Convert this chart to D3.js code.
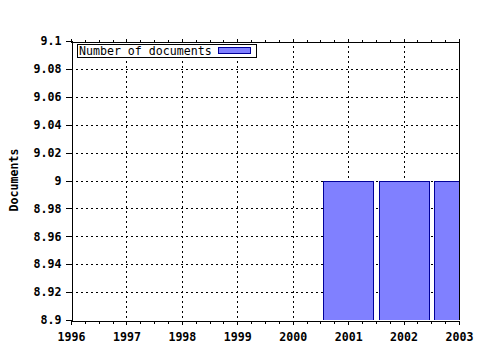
<!DOCTYPE html>
<html><head><meta charset="utf-8">
<script src="https://cdn.jsdelivr.net/npm/d3@7"></script>
<style>body{margin:0;background:#fff}svg{display:block}</style>
</head><body>
<script>
const years = [1996, 1997, 1998, 1999, 2000, 2001, 2002, 2003];
const barYears = [2001, 2002, 2003];
const barValues = [9, 9, 9];
const yTicks = [8.9, 8.92, 8.94, 8.96, 8.98, 9, 9.02, 9.04, 9.06, 9.08, 9.1];
const seriesName = "Number of documents";
const yTitle = "Documents";

const W = 480, H = 350;
const m = {l: 71, r: 21, t: 41, b: 30};
const font = "'DejaVu Sans Mono', monospace";
const svg = d3.select("body").append("svg").attr("width", W).attr("height", H);

const x = d3.scaleLinear().domain([1996, 2003]).range([m.l, W - m.r]);
const y = d3.scaleLinear().domain([8.9, 9.1]).range([H - m.b, m.t]);

svg.append("defs").append("clipPath").attr("id", "clip")
  .append("rect").attr("x", m.l).attr("y", m.t).attr("width", W - m.r - m.l).attr("height", H - m.b - m.t);

// grid
const g = svg.append("g").attr("stroke", "#000").attr("stroke-dasharray", "2,3").attr("shape-rendering", "crispEdges");
yTicks.slice(1, -1).forEach(v => {
  g.append("line").attr("x1", m.l).attr("x2", W - m.r).attr("y1", Math.round(y(v)) + 0.5).attr("y2", Math.round(y(v)) + 0.5);
});
years.slice(1, -1).forEach(v => {
  g.append("line").attr("y1", m.t).attr("y2", H - m.b).attr("x1", Math.round(x(v)) + 0.5).attr("x2", Math.round(x(v)) + 0.5);
});

// bars
const step = x(1997) - x(1996);
const bw = step * 0.9;
svg.append("g").attr("clip-path", "url(#clip)").selectAll("rect").data(barYears).join("rect")
  .attr("x", (d) => Math.round(x(d) - bw / 2) + 0.5)
  .attr("width", Math.round(bw))
  .attr("y", (d, i) => Math.round(y(barValues[i])) + 0.5)
  .attr("height", (d, i) => Math.round(y(8.9) - y(barValues[i])))
  .attr("fill", "#8080ff").attr("stroke", "#000099").attr("stroke-width", 1);

// axes
const axG = svg.append("g").attr("shape-rendering", "crispEdges");
const bottomAx = axG.append("g").attr("transform", `translate(0,${H - m.b + 0.5})`)
  .call(d3.axisBottom(x).tickValues(years).tickFormat(d3.format("d")).tickSize(4).tickPadding(8));
const minor = d3.range(1996, 2003.001, 0.25).filter(v => Math.abs(v - Math.round(v)) > 0.01);
bottomAx.selectAll(".minor").data(minor).join("line").attr("class", "minor")
  .attr("x1", d => Math.round(x(d)) + 0.5).attr("x2", d => Math.round(x(d)) + 0.5).attr("y1", 0).attr("y2", 3).attr("stroke", "#000");
const topAx = axG.append("g").attr("transform", `translate(0,${m.t + 0.5})`)
  .call(d3.axisTop(x).tickValues(years).tickFormat("").tickSize(3));
topAx.selectAll(".minor").data(minor).join("line").attr("class", "minor")
  .attr("x1", d => Math.round(x(d)) + 0.5).attr("x2", d => Math.round(x(d)) + 0.5).attr("y1", 0).attr("y2", -2).attr("stroke", "#000");
const leftAx = axG.append("g").attr("transform", `translate(${m.l + 0.5},0)`)
  .call(d3.axisLeft(y).tickValues(yTicks).tickFormat(d => d3.format("")(+d.toFixed(2))).tickSize(6).tickPadding(4));
axG.append("line").attr("x1", W - m.r + 0.5).attr("x2", W - m.r + 0.5).attr("y1", m.t).attr("y2", H - m.b).attr("stroke", "#000");

[bottomAx, topAx, leftAx].forEach(a => {
  a.select(".domain").attr("stroke", "#000");
  a.selectAll(".tick line").attr("stroke", "#000");
  a.selectAll("text").attr("font-family", font).attr("font-weight", "bold").attr("font-size", "11.6px").attr("fill", "#000");
});

// y title
svg.append("text").attr("transform", `translate(18,180) rotate(-90)`).attr("text-anchor", "middle")
  .attr("font-family", font).attr("font-weight", "bold").attr("font-size", "11.6px").text(yTitle);

// legend
const lg = svg.append("g").attr("shape-rendering", "crispEdges");
lg.append("rect").attr("x", 77.5).attr("y", 44.5).attr("width", 179).attr("height", 13).attr("fill", "#fff").attr("stroke", "#000");
lg.append("text").attr("x", 79).attr("y", 55).attr("font-family", font).attr("font-size", "11.6px").attr("fill", "#000").text(seriesName);
lg.append("rect").attr("x", 218.5).attr("y", 47.5).attr("width", 32).attr("height", 6).attr("fill", "#8080ff").attr("stroke", "#000099");
</script>
</body></html>
